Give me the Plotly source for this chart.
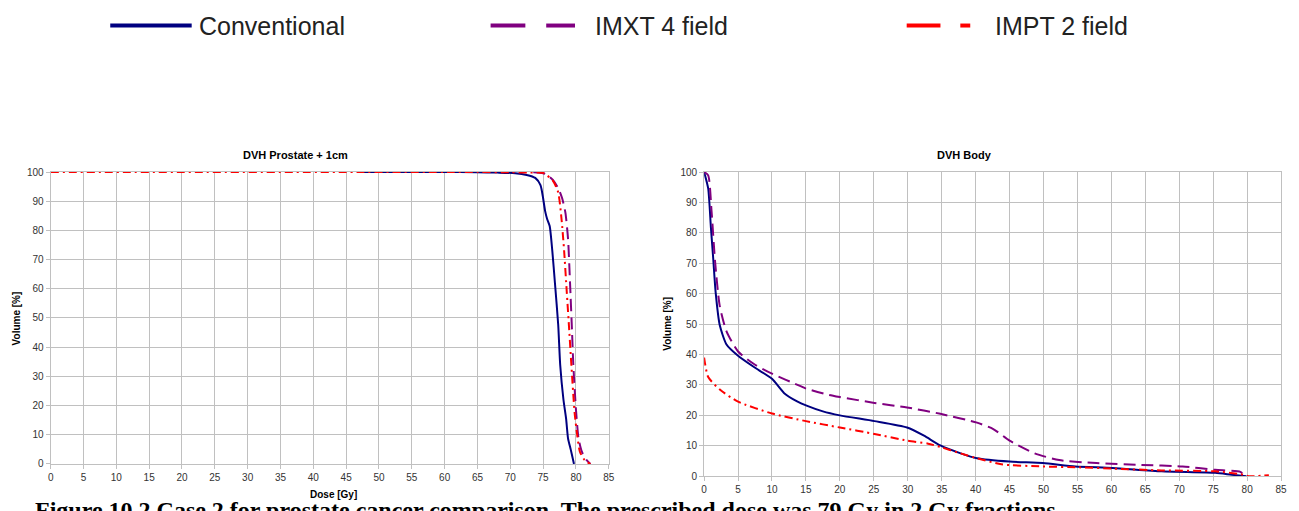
import plotly.graph_objects as go

# ---------------- data ----------------
# Left panel: DVH Prostate + 1cm
pros_conv_dose = [47, 60, 65, 68, 70.75, 72.5, 73.8, 74.6, 75.0, 75.3, 75.6, 76.0, 76.4, 76.8, 77.3, 77.6, 78.1, 78.5, 78.8, 79.2, 79.6, 79.7]
pros_conv_vol = [100, 100, 99.9, 99.8, 99.6, 99.0, 98.0, 95.5, 91, 86.7, 84, 81.5, 73, 62, 47.6, 34, 22, 15.5, 8.7, 5, 1, 0]

pros_imxt_dose = [73.5, 75.0, 75.6, 76.6, 77.4, 77.9, 78.4, 78.8, 79.1, 79.4, 79.6, 80.0, 80.4, 80.9, 81.6, 82.2]
pros_imxt_vol = [99.9, 99.6, 99, 97, 94, 91, 86, 77, 62, 45.5, 34, 18.7, 8.7, 4.2, 1.4, 0]

pros_impt_dose = [0, 45, 65, 70, 73, 75.0, 76.5, 77.3, 77.8, 78.2, 78.6, 79.0, 79.3, 79.8, 80.2, 80.6, 81.3, 82.2]
pros_impt_vol = [100, 100, 100, 99.9, 99.8, 99.7, 97, 93, 84, 73, 59, 45, 34, 17.5, 9.8, 4.2, 1.4, 0]

# Right panel: DVH Body
body_conv_dose = [0, 0.6, 1.0, 1.36, 1.7, 2.3, 3.3, 5, 7.4, 10, 11.8, 13.7, 15.1, 17.5, 20, 25.1, 29.9, 32.4, 34.8, 37.8, 40.2, 45, 49.9, 54.7, 60.2, 67.4, 75.3, 77.7, 79.9]
body_conv_vol = [100, 94.6, 81.8, 71, 60.4, 49.7, 43.3, 39.6, 35.8, 32, 27.3, 24.6, 23.2, 21.3, 20, 18.1, 16, 13.3, 10.1, 7.5, 5.9, 4.8, 4.3, 3.2, 2.7, 1.6, 1.1, 0.5, 0]

body_imxt_dose = [0, 0.6, 1.1, 1.6, 2.3, 3.3, 5, 7.4, 10, 14.2, 15, 18.4, 20, 25.1, 29.9, 34.8, 40.2, 42.6, 45, 48.7, 52.3, 57.8, 64.4, 70.5, 75.3, 79.0, 79.5]
body_imxt_vol = [100, 98.9, 87, 71, 56, 47.6, 41, 36.8, 33.7, 29.6, 28.8, 26.7, 26, 24.1, 22.6, 20.5, 17.6, 15.5, 11.7, 7.5, 5.3, 4.3, 3.7, 3.2, 2.1, 1.4, 0.5]

body_impt_dose = [0, 0.6, 2.4, 5, 10, 15, 20, 25.1, 29.9, 33, 34.8, 37.8, 40.2, 43.8, 49.9, 55.3, 60.2, 67.4, 75.3, 79.5, 80.2, 83.2]
body_impt_vol = [39, 32.6, 28.3, 24.5, 20.6, 18.1, 16, 13.9, 11.7, 10.7, 9.6, 7.5, 5.9, 3.9, 3.2, 2.9, 2.5, 1.9, 1.6, 0.5, 0, 0.3]

series_names = ["Conventional", "IMXT 4 field", "IMPT 2 field"]
x_ticks = list(range(0, 90, 5))
y_ticks = list(range(0, 110, 10))

caption = "Figure 10.2 Case 2 for prostate cancer comparison. The prescribed dose was 79 Gy in 2 Gy fractions."

# ---------------- styles ----------------
NAVY = "#000080"
PURPLE = "#800080"
RED = "#ff0000"
styles = [
    dict(color=NAVY, width=2, dash="solid"),
    dict(color=PURPLE, width=2, dash="12px,6px"),
    dict(color=RED, width=2, dash="8px,4px,2px,4px"),
]

W, H = 1299, 511
def px(x):
    return x / W
def py(y):
    return (H - y) / H

fig = go.Figure()

left_data = [(pros_conv_dose, pros_conv_vol), (pros_imxt_dose, pros_imxt_vol), (pros_impt_dose, pros_impt_vol)]
right_data = [(body_conv_dose, body_conv_vol), (body_imxt_dose, body_imxt_vol), (body_impt_dose, body_impt_vol)]

# draw order: Conventional, IMXT, IMPT on top
for i in [0, 1, 2]:
    d, v = left_data[i]
    fig.add_trace(go.Scatter(x=d, y=v, mode="lines", name=series_names[i], line=dict(**styles[i], shape="spline", smoothing=0.6),
                             xaxis="x", yaxis="y", showlegend=False))
for i in [0, 1, 2]:
    d, v = right_data[i]
    fig.add_trace(go.Scatter(x=d, y=v, mode="lines", name=series_names[i], line=dict(**styles[i], shape="spline", smoothing=0.6),
                             xaxis="x2", yaxis="y2", showlegend=False))

GRID = "#c0c0c0"
TICKFONT = dict(family="Liberation Sans, Arial", size=10, color="#333333")
axis_common = dict(
    tickmode="array", showgrid=True, gridcolor=GRID, gridwidth=1,
    showline=True, linecolor=GRID, linewidth=1, mirror=True,
    ticks="outside", ticklen=4, tickcolor=GRID, tickfont=TICKFONT,
    zeroline=False, fixedrange=True,
)

fig.update_layout(
    width=W, height=H,
    margin=dict(l=0, r=0, t=0, b=0),
    paper_bgcolor="white", plot_bgcolor="white",
    xaxis=dict(domain=[px(48), px(610)], range=[0, 85], tickvals=x_ticks, anchor="y", **axis_common),
    yaxis=dict(domain=[py(469), py(170)], range=[0, 100], tickvals=y_ticks, anchor="x", **axis_common),
    xaxis2=dict(domain=[px(706), px(1287)], range=[0, 85], tickvals=x_ticks, anchor="y2", **axis_common),
    yaxis2=dict(domain=[py(481.5), py(170)], range=[0, 100], tickvals=y_ticks, anchor="x2", **axis_common),
    showlegend=False,
)

ann = []
BOLD = dict(family="Liberation Sans, Arial", size=11, color="black")
ann.append(dict(text="<b>DVH Prostate + 1cm</b>", x=px(295), y=py(153), xref="paper", yref="paper",
                xanchor="center", yanchor="middle", showarrow=False, font=BOLD))
ann.append(dict(text="<b>DVH Body</b>", x=px(968), y=py(153), xref="paper", yref="paper",
                xanchor="center", yanchor="middle", showarrow=False, font=BOLD))
ann.append(dict(text="<b>Volume [%]</b>", x=px(14), y=py(320), xref="paper", yref="paper", textangle=-90,
                xanchor="center", yanchor="middle", showarrow=False, font=dict(family="Liberation Sans, Arial", size=10, color="black")))
ann.append(dict(text="<b>Volume [%]</b>", x=px(669), y=py(325), xref="paper", yref="paper", textangle=-90,
                xanchor="center", yanchor="middle", showarrow=False, font=dict(family="Liberation Sans, Arial", size=10, color="black")))
ann.append(dict(text="<b>Dose [Gy]</b>", x=px(333), y=py(500), xref="paper", yref="paper",
                xanchor="center", yanchor="middle", showarrow=False, font=dict(family="Liberation Sans, Arial", size=10, color="black")))
ann.append(dict(text="<b>" + caption + "</b>", x=px(30), y=py(501), xref="paper", yref="paper",
                xanchor="left", yanchor="top", showarrow=False,
                font=dict(family="Liberation Serif, Times New Roman", size=24, color="black")))

# custom legend at top
LEG_Y = py(20)
legend_items = [
    (series_names[0], 108, 190, 195, "solid"),
    (series_names[1], 491, 576, 594, "dash"),
    (series_names[2], 910, 974, 997, "dashdot"),
]
shapes = []
for i, (name, x0, x1, xt, kind) in enumerate(legend_items):
    col = styles[i]["color"]
    if kind == "solid":
        shapes.append(dict(type="line", xref="paper", yref="paper", x0=px(x0), x1=px(x1), y0=LEG_Y, y1=LEG_Y,
                           line=dict(color=col, width=4)))
    elif kind == "dash":
        shapes.append(dict(type="line", xref="paper", yref="paper", x0=px(491), x1=px(526), y0=LEG_Y, y1=LEG_Y,
                           line=dict(color=col, width=4)))
        shapes.append(dict(type="line", xref="paper", yref="paper", x0=px(547), x1=px(576), y0=LEG_Y, y1=LEG_Y,
                           line=dict(color=col, width=4)))
    else:
        shapes.append(dict(type="line", xref="paper", yref="paper", x0=px(910), x1=px(944), y0=LEG_Y, y1=LEG_Y,
                           line=dict(color=col, width=4)))
        shapes.append(dict(type="line", xref="paper", yref="paper", x0=px(964), x1=px(974), y0=LEG_Y, y1=LEG_Y,
                           line=dict(color=col, width=4)))
    ann.append(dict(text=name, x=px(xt), y=LEG_Y, xref="paper", yref="paper", xanchor="left", yanchor="middle",
                    showarrow=False, font=dict(family="Liberation Sans, Arial", size=25, color="#222222")))

fig.update_layout(annotations=ann, shapes=shapes)
fig.write_html("out.html")
